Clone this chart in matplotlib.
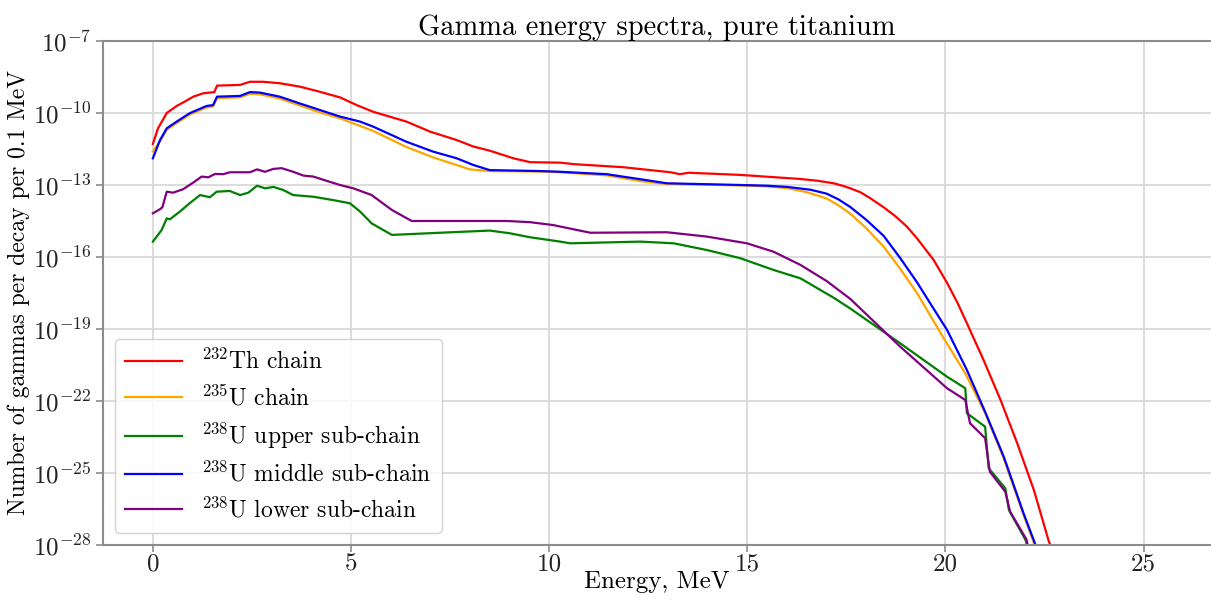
import numpy as np
import matplotlib
matplotlib.use("Agg")
import matplotlib.pyplot as plt

plt.rcParams["font.family"] = "serif"
plt.rcParams["font.serif"] = ["cmr10"]
plt.rcParams["mathtext.fontset"] = "cm"
plt.rcParams["axes.formatter.use_mathtext"] = True

# Energy grid points (MeV) and log10 of gammas per decay per 0.1 MeV
th232_e = [0, 0.13, 0.35, 0.6, 0.8, 1.02, 1.27, 1.55, 1.62, 2.2, 2.45, 2.78, 3.2, 3.7,
           4.2, 4.72, 5.14, 5.56, 6.4, 7.0, 7.67, 8.09, 8.5, 9.1, 9.52, 10.28, 10.61,
           11.87, 13.06, 13.3, 13.52, 14.82, 16.34, 16.8, 17.18, 17.4, 17.6, 17.85,
           18.1, 18.44, 18.75, 19.03, 19.28, 19.7, 20.04, 20.3, 20.54, 20.96, 21.39,
           21.81, 22.23, 22.61, 22.75]
th232_log = [-11.29, -10.64, -10.0, -9.71, -9.53, -9.32, -9.18, -9.13, -8.86, -8.83,
             -8.70, -8.70, -8.76, -8.90, -9.11, -9.35, -9.67, -9.95, -10.36, -10.78,
             -11.13, -11.40, -11.57, -11.89, -12.05, -12.07, -12.13, -12.26, -12.47,
             -12.55, -12.49, -12.58, -12.75, -12.83, -12.93, -13.03, -13.14, -13.3,
             -13.55, -13.93, -14.32, -14.74, -15.22, -16.12, -17.08, -17.9, -18.76,
             -20.29, -21.96, -23.76, -25.71, -27.86, -28.4]

u235_e = [0, 0.18, 0.35, 0.6, 0.93, 1.35, 1.52, 1.62, 2.2, 2.45, 2.7, 3.2, 3.7, 4.22,
          4.72, 5.56, 6.4, 7.07, 8.0, 8.5, 9.77, 10.28, 11.45, 12.3, 12.9, 13.0, 14.82,
          15.5, 16.0, 16.5, 17.0, 17.3, 17.6, 18.0, 18.44, 18.86, 19.28, 19.96, 20.5,
          21.0, 21.47, 21.97, 22.25, 22.35]
u235_log = [-11.6, -11.18, -10.7, -10.42, -10.07, -9.77, -9.73, -9.38, -9.35, -9.2,
            -9.22, -9.4, -9.68, -9.98, -10.22, -10.75, -11.42, -11.85, -12.35, -12.42,
            -12.44, -12.47, -12.6, -12.84, -12.95, -12.95, -13.02, -13.06, -13.13, -13.3,
            -13.56, -13.85, -14.2, -14.8, -15.57, -16.5, -17.5, -19.4, -20.85, -22.5,
            -24.4, -26.75, -28.0, -28.5]

u238_up_e = [0, 0.22, 0.35, 0.43, 0.68, 0.93, 1.19, 1.44, 1.61, 1.94, 2.2, 2.41, 2.63,
             2.83, 3.04, 3.29, 3.54, 4.05, 4.55, 4.97, 5.23, 5.52, 6.03, 7.25, 8.5, 9.0,
             9.52, 10.28, 10.53, 12.3, 13.14, 13.98, 14.82, 15.66, 16.34, 17.18, 17.6,
             18.86, 20.04, 20.5, 20.54, 21.0, 21.09, 21.51, 21.6, 22.02, 22.1]
u238_up_log = [-15.36, -14.88, -14.39, -14.43, -14.11, -13.76, -13.42, -13.51, -13.28,
               -13.25, -13.42, -13.32, -13.03, -13.14, -13.08, -13.21, -13.42, -13.49,
               -13.63, -13.76, -14.11, -14.6, -15.08, -14.99, -14.9, -15.01, -15.18,
               -15.36, -15.43, -15.36, -15.43, -15.71, -16.05, -16.54, -16.89, -17.7,
               -18.15, -19.6, -20.99, -21.47, -22.51, -23.07, -24.8, -25.64, -26.54,
               -27.79, -28.3]

u238_mid_e = [0, 0.18, 0.35, 0.6, 0.93, 1.35, 1.52, 1.62, 2.2, 2.45, 2.7, 3.2, 3.7, 4.22,
              4.72, 5.23, 5.56, 6.4, 7.07, 7.67, 8.09, 8.5, 9.77, 10.28, 11.45, 12.3,
              12.97, 14.82, 15.5, 16.0, 16.6, 17.0, 17.3, 17.6, 18.0, 18.44, 18.86,
              19.28, 19.66, 20.04, 20.54, 21.0, 21.47, 21.97, 22.25, 22.35]
u238_mid_log = [-11.89, -11.13, -10.64, -10.36, -10.01, -9.71, -9.67, -9.32, -9.29,
                -9.13, -9.15, -9.32, -9.60, -9.88, -10.15, -10.36, -10.57, -11.2, -11.61,
                -11.89, -12.17, -12.38, -12.42, -12.45, -12.55, -12.76, -12.93, -13.0,
                -13.03, -13.08, -13.2, -13.36, -13.6, -13.92, -14.45, -15.12, -16.05,
                -17.05, -18.05, -19.04, -20.71, -22.45, -24.32, -26.68, -27.9, -28.4]

u238_low_e = [0, 0.18, 0.24, 0.35, 0.51, 0.76, 1.02, 1.23, 1.4, 1.57, 1.78, 1.94, 2.45,
              2.63, 2.83, 3.04, 3.25, 3.54, 3.8, 4.05, 4.39, 4.72, 5.06, 5.52, 6.03, 6.53,
              8.93, 9.52, 10.1, 11.04, 12.97, 13.98, 14.99, 15.66, 16.34, 17.0, 17.6,
              18.86, 20.04, 20.5, 20.62, 21.0, 21.12, 21.51, 21.63, 22.04, 22.12]
u238_low_log = [-14.18, -14.01, -13.93, -13.28, -13.32, -13.18, -12.9, -12.65, -12.68,
                -12.54, -12.55, -12.47, -12.47, -12.35, -12.45, -12.33, -12.3, -12.45,
                -12.61, -12.65, -12.83, -13.0, -13.14, -13.42, -14.04, -14.5, -14.5,
                -14.55, -14.67, -14.99, -14.97, -15.15, -15.43, -15.78, -16.33, -17.0,
                -17.75, -19.74, -21.47, -21.96, -22.93, -23.55, -24.95, -25.78, -26.61,
                -27.76, -28.3]

series = [
    (th232_e, th232_log, "red", r"$^{232}$Th chain"),
    (u235_e, u235_log, "orange", r"$^{235}$U chain"),
    (u238_up_e, u238_up_log, "green", r"$^{238}$U upper sub-chain"),
    (u238_mid_e, u238_mid_log, "blue", r"$^{238}$U middle sub-chain"),
    (u238_low_e, u238_low_log, "purple", r"$^{238}$U lower sub-chain"),
]

x_ticks = [0, 5, 10, 15, 20, 25]
y_exponents = list(range(-28, -6, 3))

fig = plt.figure(figsize=(12.11, 6.0), dpi=100)
ax = fig.add_axes([0.085, 0.0917, 0.915, 0.84])

for e, lg, color, label in series:
    ax.plot(e, 10.0 ** np.asarray(lg), color=color, lw=1.6, label=label)

ax.set_yscale("log")
ax.set_ylim(1e-28, 1e-7)
ax.set_xlim(-1.26, 26.7)
ax.set_yticks([10.0 ** k for k in y_exponents],
              [r"$10^{%d}$" % k for k in y_exponents])
ax.yaxis.set_minor_locator(matplotlib.ticker.NullLocator())
ax.set_xticks(x_ticks, [str(t) for t in x_ticks])

ax.grid(True, color="#d9d9d9", lw=1.3)
ax.set_axisbelow(True)
for side in ("left", "bottom", "top"):
    ax.spines[side].set_color("#8c8c8c")
    ax.spines[side].set_linewidth(1.5)
ax.spines["right"].set_visible(False)
ax.tick_params(axis="both", colors="#8c8c8c", labelcolor="#222222",
               labelsize=18, width=1.2, length=5)
ax.tick_params(axis="x", pad=1)

ax.set_title("Gamma energy spectra, pure titanium", fontsize=20.5, pad=4)
ax.set_xlabel("Energy, MeV", fontsize=18, labelpad=-3)
ax.set_ylabel("Number of gammas per decay per 0.1 MeV", fontsize=17, labelpad=2)

ax.legend(loc="lower left", fontsize=17, frameon=True, framealpha=0.85,
          edgecolor="#cccccc", handlelength=2.4, labelspacing=0.45,
          borderaxespad=0.5, borderpad=0.45)

fig.savefig("out.png", dpi=100)
